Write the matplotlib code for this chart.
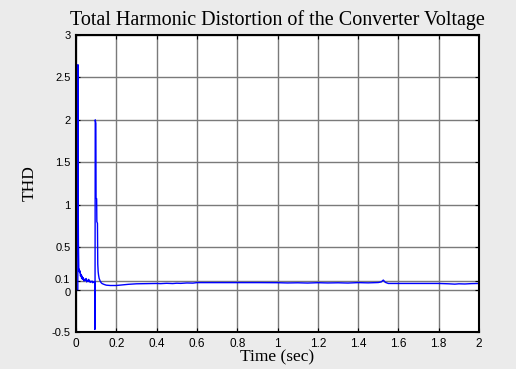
import matplotlib
matplotlib.use("Agg")
import matplotlib.pyplot as plt
import matplotlib.transforms as mtransforms

# Data
time_s = [0.0, 0.009, 0.0095, 0.0105, 0.012, 0.014, 0.016, 0.018, 0.02, 0.022, 0.025,
          0.028, 0.03, 0.033, 0.036, 0.04, 0.043, 0.046, 0.05, 0.053, 0.056, 0.06,
          0.063, 0.066, 0.07, 0.073, 0.076, 0.08, 0.083, 0.086, 0.09, 0.093, 0.0935,
          0.0945, 0.0955, 0.0985, 0.0995, 0.1025, 0.1035, 0.1065, 0.108, 0.11, 0.112,
          0.115, 0.12, 0.125, 0.13, 0.14, 0.15, 0.17, 0.2, 0.23, 0.26, 0.3, 0.35,
          0.4, 0.42, 0.45, 0.48, 0.5, 0.52, 0.55, 0.58, 0.6, 0.7, 0.8, 0.9, 1.0,
          1.05, 1.1, 1.15, 1.2, 1.25, 1.3, 1.35, 1.4, 1.45, 1.5, 1.515, 1.525, 1.535,
          1.55, 1.6, 1.7, 1.8, 1.85, 1.88, 1.9, 1.93, 1.96, 2.0]
thd = [0.0, 0.0, 2.65, 1.3, 0.55, 0.22, 0.24, 0.2, 0.22, 0.16, 0.18,
       0.13, 0.16, 0.12, 0.14, 0.1, 0.12, 0.11, 0.13, 0.09, 0.11, 0.1,
       0.12, 0.09, 0.1, 0.085, 0.095, 0.1, 0.08, 0.09, 0.085, 0.09, -0.47,
       0.02, 2.0, 1.96, 1.08, 1.07, 0.8, 0.78, 0.3, 0.21, 0.17,
       0.13, 0.1, 0.08, 0.07, 0.06, 0.052, 0.048, 0.048, 0.055, 0.062, 0.068, 0.07,
       0.072, 0.07, 0.074, 0.071, 0.075, 0.073, 0.078, 0.076, 0.082, 0.082, 0.082, 0.082, 0.081,
       0.078, 0.08, 0.077, 0.081, 0.078, 0.08, 0.077, 0.082, 0.079, 0.083, 0.09, 0.112, 0.085,
       0.072, 0.072, 0.072, 0.072, 0.068, 0.064, 0.068, 0.066, 0.07, 0.072]

x_ticks = [0, 0.2, 0.4, 0.6, 0.8, 1.0, 1.2, 1.4, 1.6, 1.8, 2.0]
x_tick_labels = ["0", "0.2", "0.4", "0.6", "0.8", "1", "1.2", "1.4", "1.6", "1.8", "2"]
y_ticks = [-0.5, 0, 0.1, 0.5, 1, 1.5, 2, 2.5, 3]
y_tick_labels = ["-0.5", "0", "0.1", "0.5", "1", "1.5", "2", "2.5", "3"]

fig = plt.figure(figsize=(5.16, 3.69), dpi=100, facecolor="#ebebeb")
ax = fig.add_axes([76/516, 1-332/369, (479-76)/516, (332-35)/369])
ax.set_facecolor("white")
ax.plot(time_s, thd, color="#0000ff", lw=1.0)

ax.set_xlim(0, 2)
ax.set_ylim(-0.5, 3)
ax.set_xticks(x_ticks)
ax.set_xticklabels(x_tick_labels)
ax.set_yticks(y_ticks)
ax.set_yticklabels(y_tick_labels)
ax.grid(True, color="#7a7a7a", lw=1.0, ls="-")
ax.set_axisbelow(True)

for s in ax.spines.values():
    s.set_linewidth(1.5)
    s.set_color("black")
ax.tick_params(direction="in", length=3, width=0.8, top=True, right=True,
               labelsize=8.5, pad=4)
ax.tick_params(axis="y", labelsize=8)
for lab in ax.get_xticklabels() + ax.get_yticklabels():
    lab.set_fontfamily("Liberation Sans")

# nudge the crowded "0.1" and "0" labels apart, as in the reference
for lab in ax.get_yticklabels():
    txt = lab.get_text()
    if txt == "0.1":
        lab.set_transform(lab.get_transform() + mtransforms.ScaledTranslation(0, 1.5/72, fig.dpi_scale_trans))
    elif txt == "0":
        lab.set_transform(lab.get_transform() + mtransforms.ScaledTranslation(0, -2.0/72, fig.dpi_scale_trans))

ax.set_title("Total Harmonic Distortion of the Converter Voltage",
             fontfamily="Liberation Serif", fontsize=14.5, pad=7)
ax.set_xlabel("Time (sec)", fontfamily="Liberation Serif", fontsize=12.5, labelpad=0)
ax.set_ylabel("THD", fontfamily="Liberation Serif", fontsize=12.5, labelpad=10)

fig.savefig("out.png", dpi=100, facecolor=fig.get_facecolor())
